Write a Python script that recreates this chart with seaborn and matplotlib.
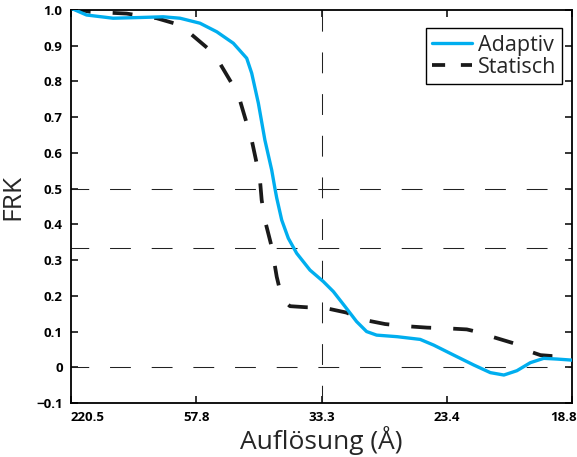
import matplotlib
matplotlib.use("Agg")
import matplotlib.pyplot as plt
import matplotlib.transforms as mtransforms
import seaborn as sns
import pandas as pd

# ---- data (x = normalised position along the frequency axis) ----
adaptiv_x = [0.0, 0.031, 0.084, 0.138, 0.184, 0.2176, 0.2575, 0.291, 0.324, 0.3507, 0.3607,
             0.374, 0.387, 0.4006, 0.407, 0.4106, 0.4206, 0.4338, 0.4505, 0.477, 0.5036,
             0.5236, 0.547, 0.570, 0.590, 0.610, 0.651, 0.697, 0.724, 0.764, 0.804, 0.837,
             0.864, 0.890, 0.9168, 0.9435, 0.970, 1.0]
adaptiv_y = [1.005, 0.986, 0.977, 0.979, 0.981, 0.977, 0.963, 0.939, 0.907, 0.865, 0.823,
             0.739, 0.636, 0.552, 0.501, 0.474, 0.412, 0.361, 0.319, 0.272, 0.240,
             0.212, 0.170, 0.128, 0.100, 0.090, 0.0856, 0.078, 0.062, 0.034, 0.0063, -0.015,
             -0.0217, -0.0096, 0.0128, 0.025, 0.023, 0.020]
statisch_x = [0.0, 0.038, 0.111, 0.171, 0.2176, 0.2375, 0.277, 0.297, 0.3207, 0.337, 0.3507,
              0.3607, 0.3706, 0.3772, 0.3806, 0.387, 0.4006, 0.4106, 0.417, 0.427, 0.437,
              0.470, 0.5036, 0.550, 0.580, 0.627, 0.664, 0.7106, 0.750, 0.790, 0.817, 0.840,
              0.884, 0.917, 0.937, 0.960, 1.0]
statisch_y = [1.005, 0.995, 0.99, 0.977, 0.958, 0.935, 0.888, 0.851, 0.795, 0.748, 0.683,
              0.636, 0.571, 0.524, 0.468, 0.412, 0.337, 0.2535, 0.216, 0.184, 0.171,
              0.168, 0.167, 0.153, 0.134, 0.121, 0.1155, 0.111, 0.109, 0.106, 0.097, 0.0856,
              0.067, 0.0436, 0.034, 0.0315, 0.0315]
series_names = ["Adaptiv", "Statisch"]
xtick_pos = [0.0, 0.25, 0.5, 0.75, 1.0]
xtick_labels = ["220.5", "57.8", "33.3", "23.4", "18.8"]
ytick_vals = [-0.1, 0.0, 0.1, 0.2, 0.3, 0.4, 0.5, 0.6, 0.7, 0.8, 0.9, 1.0]
ytick_labels = ["\u22120.1", "0", "0.1", "0.2", "0.3", "0.4", "0.5", "0.6", "0.7", "0.8", "0.9", "1.0"]
hlines = [0.5, 0.333, 0.0]
vline = 0.5

sns.set_theme(style="ticks")
plt.rcParams["font.family"] = ["Open Sans", "DejaVu Sans"]

fig = plt.figure(figsize=(5.77, 4.57), dpi=100)
ax = fig.add_axes([71 / 577, 1 - 403 / 457, 501 / 577, 393 / 457])

df_a = pd.DataFrame({"x": adaptiv_x, "y": adaptiv_y})
df_s = pd.DataFrame({"x": statisch_x, "y": statisch_y})

ref_style = dict(color="#222222", lw=0.75, linestyle=(3, (20, 20)), zorder=1)
for h in hlines:
    ax.axhline(h, **ref_style)
ax.axvline(vline, **ref_style)

static_dash = (0, (5.3, 5.9))
sns.lineplot(data=df_a, x="x", y="y", ax=ax, color="#00AEEF", lw=2.4,
             label=series_names[0], sort=False, zorder=3)
sns.lineplot(data=df_s, x="x", y="y", ax=ax, color="#1a1a1a", lw=2.7,
             label=series_names[1], sort=False, zorder=2)
ax.lines[-1].set_linestyle(static_dash)
ax.lines[-1].set_solid_joinstyle("round")
ax.lines[-2].set_solid_joinstyle("round")

ax.set_xlim(0, 1)
ax.set_ylim(-0.1, 1.0)
ax.set_xticks(xtick_pos)
ax.set_xticklabels(xtick_labels, fontsize=9.5, fontweight="bold")
ax.set_yticks(ytick_vals)
ax.set_yticklabels(ytick_labels, fontsize=9.5, fontweight="bold")
ax.tick_params(direction="in", top=True, right=True, length=5, width=1.1, pad=6,
               colors="black")
for s in ax.spines.values():
    s.set_linewidth(1.3)
    s.set_color("black")

labs = ax.get_xticklabels()
labs[0].set_horizontalalignment("left")
labs[-1].set_transform(labs[-1].get_transform() +
                       mtransforms.ScaledTranslation(-0.085, 0, fig.dpi_scale_trans))

ax.set_xlabel("Aufl\u00f6sung (\u00c5)", fontsize=19, labelpad=1)
ax.set_ylabel("FRK", fontsize=19)
ax.yaxis.set_label_coords(-0.092, 0.525)

leg = ax.legend(loc="upper right", bbox_to_anchor=(0.981, 0.954), borderaxespad=0,
                fontsize=15.5, frameon=True, fancybox=False, handlelength=1.85,
                handletextpad=0.25, borderpad=0.3, labelspacing=0.05)
leg.get_frame().set_edgecolor("black")
leg.get_frame().set_linewidth(1.0)
leg.get_frame().set_alpha(1)
leg.legend_handles[1].set_linestyle((0, (3.5, 4.2)))

fig.savefig("out.png", dpi=100)
